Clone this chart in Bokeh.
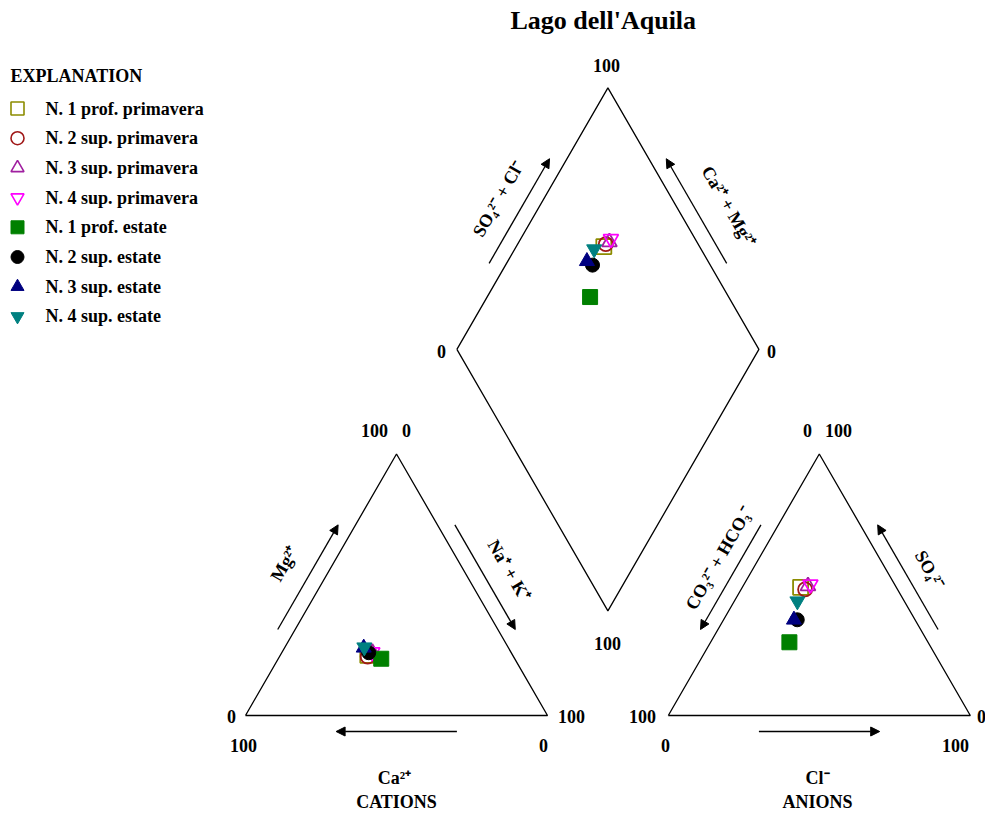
import math
import numpy as np
from bokeh.plotting import figure
from bokeh.models import Arrow, NormalHead, Range1d
from bokeh.core.properties import value
from bokeh.embed import file_html
from bokeh.resources import INLINE

# ---------------- data (percent of meq) ----------------
TITLE = "Lago  dell'Aquila"
samples = ["N. 1 prof. primavera", "N. 2 sup. primavera", "N. 3 sup. primavera",
           "N. 4 sup. primavera", "N. 1 prof. estate", "N. 2 sup. estate",
           "N. 3 sup. estate", "N. 4 sup. estate"]
markers = ["square", "circle", "triangle", "inverted_triangle",
           "square", "circle", "triangle", "inverted_triangle"]
colors = ["#8c8c00", "#a01818", "#a020a0", "#ff00ff",
          "#008000", "#000000", "#000080", "#008080"]
filled = [False, False, False, False, True, True, True, True]

# cations
ca = [48.0, 48.3, 46.0, 45.9, 44.2, 47.2, 47.9, 47.6]
mg = [23.0, 22.5, 24.0, 24.2, 21.7, 24.0, 25.9, 26.1]
nak = [29.0, 29.2, 30.0, 29.9, 34.1, 28.8, 26.2, 26.3]
# anions
hco3 = [31.7, 30.6, 29.0, 27.9, 45.9, 39.0, 40.1, 35.4]
so4 = [49.0, 48.2, 49.5, 50.1, 28.0, 36.6, 36.6, 43.7]
cl = [19.3, 21.2, 21.5, 22.0, 26.1, 24.4, 23.3, 20.9]

# ---------------- geometry ----------------
S3 = math.sqrt(3) / 2
GAP = 40.0
K = 3.02          # px per data unit
OX, OY = 245, 715  # px position of cation left vertex
W, H = 985, 814
FONT = value("Liberation Serif")


def d(px, py):
    return (px - OX) / K, (OY - py) / K


p = figure(width=W, height=H, output_backend="svg", toolbar_location=None,
           x_range=Range1d(-OX / K, (W - OX) / K),
           y_range=Range1d(-(H - OY) / K, OY / K),
           min_border=0, title=None)
p.axis.visible = False
p.grid.visible = False
p.outline_line_color = None
p.background_fill_color = "white"
p.border_fill_color = "white"

AX = 100 + GAP  # anion triangle x offset
cat_v = [(0, 0), (100, 0), (50, 100 * S3)]
an_v = [(AX, 0), (AX + 100, 0), (AX + 50, 100 * S3)]
L = ((100 + GAP) / 2, (100 + GAP) * S3)
B = (100 + GAP / 2, GAP * S3)
R = ((100 + GAP) / 2 + 100, (100 + GAP) * S3)
T = (100 + GAP / 2, (200 + GAP) * S3)

lw = 1.3
p.line([v[0] for v in cat_v + [cat_v[0]]], [v[1] for v in cat_v + [cat_v[0]]],
       line_color="black", line_width=lw)
p.line([v[0] for v in an_v + [an_v[0]]], [v[1] for v in an_v + [an_v[0]]],
       line_color="black", line_width=lw)
dia = [L, B, R, T, L]
p.line([v[0] for v in dia], [v[1] for v in dia], line_color="black", line_width=lw)


def along(P, Q, f, off, nrm):
    return (P[0] + (Q[0] - P[0]) * f + nrm[0] * off,
            P[1] + (Q[1] - P[1]) * f + nrm[1] * off)


NL = (-S3, 0.5)   # outward normal of edges on the left
NR = (S3, 0.5)    # outward normal of edges on the right
ND = (0, -1)


def arrow(P, Q, nrm, off=5.0):
    s = along(P, Q, 0.3, off, nrm)
    e = along(P, Q, 0.7, off, nrm)
    p.add_layout(Arrow(end=NormalHead(size=9, fill_color="black", line_color="black"),
                       x_start=s[0], y_start=s[1], x_end=e[0], y_end=e[1],
                       line_color="black", line_width=1.3))


A_apex = an_v[2]
arrow(cat_v[0], cat_v[2], NL)                 # Mg
arrow(cat_v[2], cat_v[1], NR)                 # Na+K
arrow(cat_v[1], cat_v[0], ND, 5.3)            # Ca
arrow(A_apex, an_v[0], NL)                    # CO3+HCO3
arrow(an_v[1], A_apex, NR)                    # SO4
arrow(an_v[0], an_v[1], ND, 5.3)              # Cl
arrow(L, T, NL)                               # SO4+Cl
arrow(R, T, NR)                               # Ca+Mg


def txt(x, y, s, size="18px", angle=0.0, align="center", style="bold"):
    p.text(x=[x], y=[y], text=[s], angle=angle, text_font=FONT,
           text_font_size=size, text_font_style=style, text_align=align,
           text_baseline="middle", text_color="black")


A60 = math.pi / 3
# edge labels
x, y = along(L, T, 0.5, 13.0, NL); txt(x, y, "SO₄²⁻ + Cl⁻", angle=A60)
x, y = along(R, T, 0.46, 15.0, NR); txt(x, y, "Ca²⁺ + Mg²⁺", angle=-A60)
x, y = along(cat_v[0], cat_v[2], 0.5, 14.0, NL); txt(x, y, "Mg²⁺", angle=A60)
x, y = along(cat_v[2], cat_v[1], 0.52, 13.0, NR); txt(x, y, "Na⁺ + K⁺", angle=-A60)
x, y = along(A_apex, an_v[0], 0.465, 11.5, NL); txt(x, y, "CO₃²⁻ + HCO₃⁻", angle=A60)
x, y = along(an_v[1], A_apex, 0.485, 12.5, NR); txt(x, y, "SO₄²⁻", angle=-A60)

# bottom labels
txt(*d(394, 777), "Ca²⁺")
txt(*d(396, 801), "CATIONS")
txt(*d(817, 777), "Cl⁻")
txt(*d(817, 801), "ANIONS")

# vertex labels
for (px, py, s) in [(606, 65, "100"), (441, 351, "0"), (771, 351, "0"), (607, 643, "100"),
                    (231, 716, "0"), (243, 745, "100"), (374, 430, "100"), (406, 430, "0"),
                    (571, 716, "100"), (543, 745, "0"),
                    (642, 716, "100"), (665, 745, "0"), (807, 430, "0"), (838, 430, "100"),
                    (981, 716, "0"), (955, 745, "100")]:
    txt(*d(px, py), s)

# title
txt(*d(606, 20), TITLE, size="26px")

# ---------------- data points ----------------
ca_a, mg_a, nak_a = np.array(ca), np.array(mg), np.array(nak)
hco3_a, so4_a, cl_a = np.array(hco3), np.array(so4), np.array(cl)
cx = nak_a + mg_a / 2
cy = mg_a * S3
ax = AX + cl_a + so4_a / 2
ay = so4_a * S3
dx = (100 + GAP) / 2 + (nak_a + cl_a + so4_a) / 2
dy = S3 * (100 + GAP + (cl_a + so4_a) - nak_a)

for i in range(len(samples)):
    kw = dict(marker=markers[i], size=15 if markers[i] != "circle" else 14,
              line_color=colors[i])
    if filled[i]:
        kw.update(fill_color=colors[i], line_width=1)
    else:
        kw.update(fill_color=None, line_width=1.8)
    p.scatter(x=[cx[i], ax[i], dx[i]], y=[cy[i], ay[i], dy[i]], **kw)

# ---------------- legend ----------------
txt(*d(10, 75), "EXPLANATION", align="left")
for i, s in enumerate(samples):
    py = 108 + i * 29.7
    kw = dict(marker=markers[i], size=13, line_color=colors[i])
    if filled[i]:
        kw.update(fill_color=colors[i], line_width=1)
    else:
        kw.update(fill_color=None, line_width=1.6)
    lx, ly = d(17, py)
    p.scatter(x=[lx], y=[ly], **kw)
    txt(*d(45, py), s, align="left")

open("out.html", "w").write(file_html(p, INLINE))
